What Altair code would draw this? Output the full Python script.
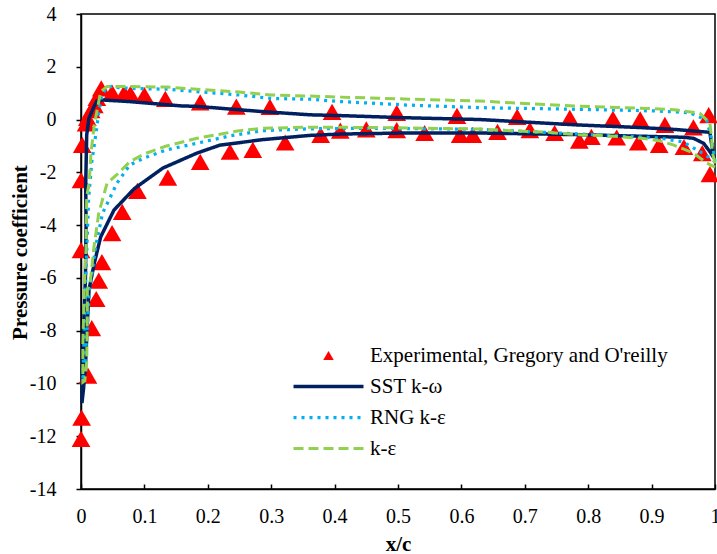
import altair as alt
import pandas as pd

# ---- experimental data (Gregory and O'Reilly) ----
exp_x = [0.000, 0.000, 0.002, 0.008, 0.010, 0.016, 0.021, 0.025, 0.032, 0.049, 0.068, 0.078,
         0.100, 0.133, 0.188, 0.245, 0.298, 0.396, 0.498, 0.593, 0.688, 0.771, 0.839, 0.882,
         0.921, 0.966, 0.990,
         0.000, 0.001, 0.011, 0.017, 0.024, 0.028, 0.033, 0.049, 0.065, 0.089, 0.137, 0.188,
         0.235, 0.271, 0.322, 0.378, 0.409, 0.450, 0.498, 0.542, 0.598, 0.618, 0.657, 0.708,
         0.747, 0.786, 0.805, 0.845, 0.879, 0.912, 0.951, 0.980, 0.992]
exp_cp = [-4.95, -2.30, -0.96, -0.15, 0.06, 0.36, 0.55, 0.82, 1.18, 1.02, 1.00, 0.97,
          0.93, 0.78, 0.65, 0.49, 0.48, 0.29, 0.25, 0.14, 0.10, 0.06, 0.03, 0.01,
          -0.20, -0.30, 0.17,
          -12.10, -11.30, -9.70, -7.90, -6.80, -6.10, -5.40, -4.30, -3.50, -2.70, -2.20, -1.60,
          -1.22, -1.15, -0.87, -0.58, -0.42, -0.37, -0.40, -0.51, -0.58, -0.58, -0.47, -0.40,
          -0.51, -0.80, -0.66, -0.68, -0.87, -0.96, -1.04, -1.27, -2.07]

# ---- SST k-omega ----
sst_x = [0.999, 0.996, 0.992, 0.990, 0.940, 0.880, 0.780, 0.630, 0.510, 0.410, 0.361, 0.287,
         0.182, 0.156, 0.077, 0.035, 0.025, 0.0205, 0.0126, 0.009, 0.0074, 0.008, 0.007, 0.004,
         0.002, 0.0015, 0.004, 0.007, 0.010, 0.0126, 0.021, 0.031, 0.052, 0.084, 0.129, 0.183,
         0.219, 0.287, 0.361, 0.410, 0.510, 0.630, 0.780, 0.880, 0.950, 0.966, 0.982, 0.992,
         0.997, 0.999]
sst_cp = [-1.45, -1.15, -0.50, -0.48, -0.38, -0.30, -0.20, 0.00, 0.07, 0.15, 0.18, 0.30,
          0.50, 0.52, 0.68, 0.74, 0.70, 0.49, 0.05, -0.58, -2.48, -4.00, -6.00, -8.00,
          -10.00, -10.74, -10.20, -9.37, -7.72, -6.46, -5.44, -4.45, -3.43, -2.62, -1.84, -1.27,
          -0.97, -0.76, -0.60, -0.55, -0.51, -0.51, -0.57, -0.63, -0.67, -0.71, -0.90, -1.22,
          -1.41, -1.45]

# ---- RNG k-epsilon ----
rng_x = [1.000, 0.995, 0.987, 0.960, 0.913, 0.882, 0.780, 0.630, 0.514, 0.410, 0.361, 0.300,
         0.250, 0.135, 0.077, 0.056, 0.052, 0.040, 0.033, 0.028, 0.024, 0.017, 0.012, 0.009,
         0.006, 0.004, 0.003, 0.006, 0.008, 0.011, 0.013, 0.016, 0.023, 0.034, 0.057, 0.077,
         0.100, 0.135, 0.182, 0.235, 0.287, 0.360, 0.460, 0.630, 0.787, 0.913, 0.950, 0.975,
         0.995, 1.000]
rng_cp = [-1.60, -0.77, -0.02, 0.26, 0.32, 0.34, 0.39, 0.45, 0.55, 0.68, 0.77, 0.80,
          0.93, 1.15, 1.18, 1.22, 1.28, 1.20, 0.93, 0.29, -0.47, -1.60, -3.00, -5.00,
          -7.00, -9.00, -9.90, -9.50, -8.60, -7.50, -6.50, -6.08, -4.82, -3.55, -2.40, -1.72,
          -1.45, -1.15, -0.90, -0.62, -0.42, -0.35, -0.33, -0.37, -0.55, -0.70, -0.85, -1.20,
          -1.50, -1.60]

# ---- standard k-epsilon ----
ke_x = [1.000, 0.995, 0.995, 0.992, 0.976, 0.940, 0.913, 0.882, 0.780, 0.629, 0.510, 0.410,
        0.361, 0.300, 0.250, 0.135, 0.077, 0.041, 0.031, 0.026, 0.021, 0.016, 0.013, 0.009,
        0.008, 0.005, 0.003, 0.003, 0.006, 0.009, 0.010, 0.010, 0.015, 0.0205, 0.028, 0.041,
        0.056, 0.077, 0.100, 0.135, 0.183, 0.250, 0.287, 0.360, 0.460, 0.630, 0.676, 0.735,
        0.780, 0.840, 0.888, 0.913, 0.934, 0.966, 0.987, 1.000]
ke_cp = [-1.66, -1.15, -0.77, -0.14, 0.24, 0.36, 0.40, 0.43, 0.51, 0.70, 0.78, 0.85,
         0.89, 0.93, 1.04, 1.23, 1.25, 1.25, 1.06, 0.43, -0.20, -1.20, -2.37, -2.93,
         -4.83, -6.46, -8.50, -9.95, -9.90, -9.20, -7.50, -6.46, -6.08, -4.82, -3.55, -2.42,
         -2.10, -1.60, -1.30, -1.00, -0.71, -0.42, -0.33, -0.29, -0.30, -0.36, -0.42, -0.48,
         -0.57, -0.63, -0.72, -0.81, -0.96, -1.27, -1.65, -1.80]

models = ["SST k-\u03c9", "RNG k-\u03b5", "k-\u03b5"]
model_colors = ["#002060", "#00B0F0", "#92D050"]
model_dash = [[1, 0], [3, 5], [10, 5]]
model_width = [3.5, 3, 4]
exp_label = "Experimental, Gregory and O'reilly"

x_ticks = [0, 0.1, 0.2, 0.3, 0.4, 0.5, 0.6, 0.7, 0.8, 0.9, 1]
y_ticks = [-14, -12, -10, -8, -6, -4, -2, 0, 2, 4]

exp_df = pd.DataFrame({"x": exp_x, "cp": exp_cp, "src": exp_label})
rows = []
for name, xs, cs in zip(models, [sst_x, rng_x, ke_x], [sst_cp, rng_cp, ke_cp]):
    for i, (a, b) in enumerate(zip(xs, cs)):
        rows.append({"x": a, "cp": b, "model": name, "order": i})
line_df = pd.DataFrame(rows)

FONT = "Liberation Serif"

xscale = alt.Scale(domain=[0, 1], nice=False, zero=False)
yscale = alt.Scale(domain=[-14, 4], nice=False, zero=False)

xaxis = alt.Axis(title="x/c", values=x_ticks, labelExpr="datum.value + ''",
                 tickSize=alt.ExprRef(expr="-5"), labelPadding=22, labelFlush=False,
                 titleY=61, titleBaseline="alphabetic")
yaxis = alt.Axis(title="Pressure coefficient", values=y_ticks, labelExpr="datum.value + ''",
                 tickSize=5, labelPadding=20, labelFlush=False, titleX=-55, titleY=238,
                 titleAngle=270, titleBaseline="alphabetic")

pts = alt.Chart(exp_df).mark_point(filled=True, size=350, color="#FF0000", opacity=1).encode(
    x=alt.X("x:Q", scale=xscale, axis=xaxis),
    y=alt.Y("cp:Q", scale=yscale, axis=yaxis),
    shape=alt.Shape("src:N", scale=alt.Scale(domain=[exp_label], range=["triangle-up"]),
                    legend=alt.Legend(title=None, orient="none", legendX=237, legendY=331,
                                      padding=0, symbolSize=110, symbolFillColor="#FF0000",
                                      symbolStrokeWidth=0, labelOffset=31,
                                      labelFont=FONT, labelFontSize=21, labelColor="black",
                                      labelLimit=500)),
)

# horizontal line symbol, 70 px long at symbolSize 100 (unit square scaled by 5)
line_legend = alt.Legend(title=None, orient="none", legendX=237, legendY=362, padding=0,
                         symbolType="M-7,0L7,0", symbolSize=100, symbolStrokeWidth=3.5,
                         symbolFillColor="transparent",
                         labelOffset=31, rowPadding=9, labelFont=FONT, labelFontSize=21,
                         labelColor="black", labelLimit=500)

lines = alt.Chart(line_df).mark_line(strokeCap="butt").encode(
    x=alt.X("x:Q", scale=xscale),
    y=alt.Y("cp:Q", scale=yscale),
    order="order:Q",
    color=alt.Color("model:N", scale=alt.Scale(domain=models, range=model_colors),
                    legend=line_legend),
    strokeDash=alt.StrokeDash("model:N", scale=alt.Scale(domain=models, range=model_dash),
                              legend=line_legend),
    strokeWidth=alt.StrokeWidth("model:N", scale=alt.Scale(domain=models, range=model_width),
                                legend=line_legend),
)

chart = alt.layer(pts, lines).resolve_legend(shape="independent").properties(
    width=634, height=475, autosize="none",
    padding={"left": 81, "top": 14, "right": 2, "bottom": 65},
).configure_view(stroke="black", strokeWidth=1.5).configure_axis(
    grid=False, domainColor="black", domainWidth=1.5, tickColor="black", tickWidth=1.5,
    labelFont=FONT, labelFontSize=20, labelColor="black",
    titleFont=FONT, titleFontSize=21, titleFontWeight="bold", titleColor="black",
)

chart.save("out.html", embed_options={"renderer": "svg", "actions": False})
